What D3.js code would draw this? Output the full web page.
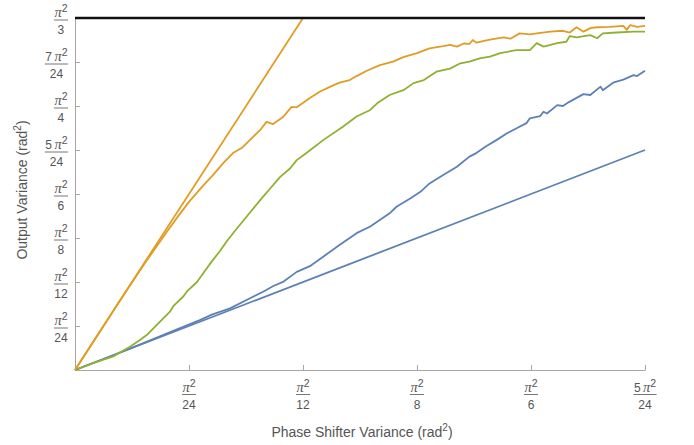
<!DOCTYPE html>
<html>
<head>
<meta charset="utf-8">
<script src="https://cdn.jsdelivr.net/npm/d3@7"></script>
<style>
  body { margin: 0; background: #fff; }
  svg { font-family: "Liberation Sans", Arial, sans-serif; }
</style>
</head>
<body>
<svg id="chart" width="694" height="445"></svg>
<script>
// all values are in units of pi^2/24 rad^2
const xTicks = [1, 2, 3, 4, 5];
const xTickNum = ["", "", "", "", "5"];
const xTickDen = ["24", "12", "8", "6", "24"];
const yTicks = [1, 2, 3, 4, 5, 6, 7, 8];
const yTickNum = ["", "", "", "", "5", "", "7", ""];
const yTickDen = ["24", "12", "8", "6", "24", "4", "24", "3"];

const limitLine = [[0, 8], [5, 8]];
const orangeLine = [[0, 0], [2, 8]];
const blueLine = [[0, 0], [5, 5]];

const orangeSim = [[0,0],[0.2,0.8],[0.4,1.6],[0.6,2.38],[0.8,3.12],[0.9,3.48],[1.0,3.82],[1.12,4.18],[1.21,4.43],[1.3,4.7],
  [1.386,4.93],[1.465,5.05],[1.535,5.23],[1.623,5.45],[1.68,5.64],[1.737,5.59],[1.825,5.75],[1.9,5.98],[1.945,5.97],
  [2.06,6.18],[2.15,6.33],[2.24,6.44],[2.32,6.53],[2.41,6.59],[2.47,6.68],[2.56,6.8],[2.675,6.93],[2.79,7.01],[2.88,7.11],
  [3.0,7.2],[3.11,7.31],[3.23,7.36],[3.29,7.39],[3.35,7.35],[3.41,7.42],[3.46,7.41],[3.49,7.5],[3.52,7.44],[3.64,7.51],
  [3.76,7.56],[3.82,7.53],[3.9,7.65],[3.99,7.63],[4.05,7.65],[4.17,7.69],[4.28,7.71],[4.34,7.67],[4.4,7.79],[4.46,7.69],
  [4.52,7.77],[4.58,7.79],[4.69,7.8],[4.81,7.82],[4.84,7.73],[4.87,7.84],[4.93,7.8],[5.0,7.82]];

const greenSim = [[0,0],[0.15,0.15],[0.336,0.31],[0.482,0.53],[0.57,0.68],[0.629,0.795],[0.746,1.1],[0.833,1.325],
  [0.862,1.45],[0.95,1.67],[0.98,1.78],[1.07,2.0],[1.18,2.4],[1.27,2.7],[1.33,2.92],[1.39,3.12],[1.447,3.3],[1.535,3.58],
  [1.65,3.94],[1.71,4.12],[1.8,4.39],[1.886,4.58],[1.945,4.77],[2.03,4.93],[2.18,5.23],[2.35,5.53],[2.47,5.76],[2.59,5.91],
  [2.65,6.06],[2.76,6.25],[2.88,6.36],[2.97,6.52],[3.06,6.59],[3.17,6.78],[3.29,6.85],[3.38,6.97],[3.46,7.01],[3.55,7.08],
  [3.64,7.12],[3.73,7.2],[3.87,7.27],[3.99,7.27],[4.05,7.43],[4.11,7.35],[4.23,7.43],[4.31,7.46],[4.34,7.59],[4.4,7.56],
  [4.52,7.61],[4.58,7.54],[4.63,7.65],[4.75,7.67],[4.9,7.69],[5.0,7.69]];

const blueSim = [[0,0],[0.3,0.3],[0.6,0.61],[0.9,0.93],[1.1,1.14],[1.2,1.26],[1.36,1.4],[1.535,1.63],[1.65,1.78],[1.74,1.91],
  [1.83,2.01],[1.945,2.23],[2.06,2.36],[2.18,2.58],[2.32,2.84],[2.47,3.11],[2.59,3.26],[2.76,3.56],[2.82,3.71],[2.94,3.9],
  [3.03,4.05],[3.11,4.24],[3.23,4.43],[3.35,4.62],[3.46,4.85],[3.52,4.93],[3.61,5.09],[3.7,5.23],[3.79,5.38],[3.87,5.49],
  [3.96,5.61],[3.99,5.72],[4.08,5.77],[4.11,5.87],[4.14,5.83],[4.23,6.02],[4.28,6.0],[4.34,6.1],[4.46,6.27],[4.52,6.25],
  [4.61,6.44],[4.63,6.36],[4.72,6.53],[4.81,6.6],[4.9,6.7],[4.93,6.68],[5.0,6.8]];

const BLUE = "#5E81B5", ORANGE = "#E19C24", GREEN = "#8FB032";
const TEXT = "#555", AXIS = "#a6a6a6";

const svg = d3.select("#chart");
const x = d3.scaleLinear().domain([0, 5]).range([75, 645]);
const y = d3.scaleLinear().domain([0, 8]).range([370, 18]);

// axes (ticks point inward, labels drawn as fractions below)
svg.append("g")
  .attr("transform", `translate(0,${y(0)})`)
  .call(d3.axisBottom(x).tickValues(xTicks).tickSizeInner(-5).tickSizeOuter(0).tickFormat(""));
svg.append("g")
  .attr("transform", `translate(${x(0)},0)`)
  .call(d3.axisLeft(y).tickValues(yTicks).tickSizeInner(-5).tickSizeOuter(0).tickFormat(""));
svg.selectAll(".domain, .tick line").attr("stroke", AXIS);

function fraction(g, num, den) {
  const n = g.append("text").attr("text-anchor", "middle").attr("y", -2.5)
    .attr("font-size", 12).attr("fill", TEXT);
  if (num) n.append("tspan").text(num + "\u2009");
  n.append("tspan").attr("font-family", "'Liberation Serif', serif").attr("font-style", "italic")
    .attr("font-size", 14.5).text("\u03c0");
  n.append("tspan").attr("font-size", 10.5).attr("dy", -5).text("2");
  g.append("text").attr("text-anchor", "middle").attr("y", 14.5)
    .attr("font-size", 12).attr("fill", TEXT).text(den);
  const w = n.node().getComputedTextLength();
  g.append("line").attr("x1", -w / 2 - 0.5).attr("x2", w / 2 + 0.5)
    .attr("y1", 0.5).attr("y2", 0.5).attr("stroke", "#777").attr("stroke-width", 1);
  return w;
}

xTicks.forEach((v, i) => {
  const g = svg.append("g").attr("transform", `translate(${x(v)},394)`);
  fraction(g, xTickNum[i], xTickDen[i]);
});

yTicks.forEach((v, i) => {
  const g = svg.append("g");
  const w = fraction(g, yTickNum[i], yTickDen[i]);
  g.attr("transform", `translate(${67.5 - w / 2},${y(v) + 1.5})`);
});

// axis titles
const xt = svg.append("text").attr("x", 362).attr("y", 437).attr("text-anchor", "middle")
  .attr("font-size", 14).attr("fill", TEXT).text("Phase Shifter Variance (rad");
xt.append("tspan").attr("font-size", 10).attr("dy", -6).text("2");
xt.append("tspan").attr("dy", 6).text(")");

const yt = svg.append("text").attr("transform", "translate(27,190) rotate(-90)")
  .attr("text-anchor", "middle").attr("font-size", 14).attr("fill", TEXT).text("Output Variance (rad");
yt.append("tspan").attr("font-size", 10).attr("dy", -6).text("2");
yt.append("tspan").attr("dy", 6).text(")");

// lines
const line = d3.line().x(d => x(d[0])).y(d => y(d[1]));
const series = [
  { data: blueLine, color: BLUE, w: 1.8 },
  { data: orangeLine, color: ORANGE, w: 1.8 },
  { data: blueSim, color: BLUE, w: 1.8 },
  { data: greenSim, color: GREEN, w: 1.8 },
  { data: orangeSim, color: ORANGE, w: 1.8 },
  { data: limitLine, color: "#111", w: 2.4 }
];
svg.append("g").selectAll("path")
  .data(series)
  .join("path")
  .attr("d", d => line(d.data))
  .attr("fill", "none")
  .attr("stroke", d => d.color)
  .attr("stroke-width", d => d.w)
  .attr("stroke-linejoin", "round")
  .attr("stroke-linecap", "butt");
</script>
</body>
</html>
